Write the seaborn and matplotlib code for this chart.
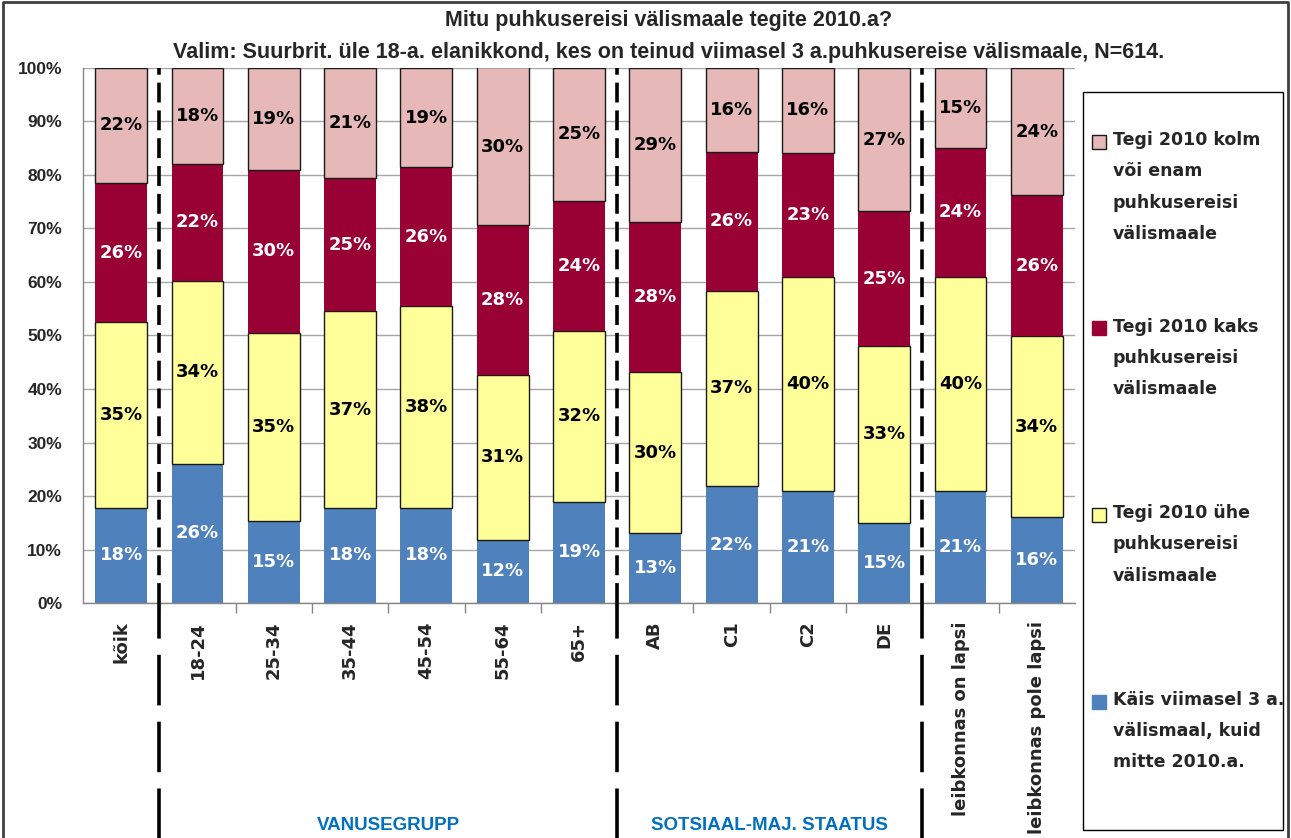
import matplotlib
matplotlib.use("Agg")
import matplotlib.pyplot as plt
import numpy as np
import pandas as pd
import seaborn as sns
from matplotlib.lines import Line2D
from matplotlib.patches import Rectangle
from matplotlib.ticker import FixedLocator, PercentFormatter

CATEGORIES = ["kõik", "18-24", "25-34", "35-44", "45-54", "55-64", "65+",
              "AB", "C1", "C2", "DE", "leibkonnas on lapsi", "leibkonnas pole lapsi"]

# protsendid, alt üles
NOT_2010 = [17.8, 26.0, 15.3, 17.8, 17.8, 11.8, 18.9, 13.0, 21.8, 20.9, 15.0, 20.9, 16.0]
ONE_TRIP = [34.7, 34.2, 35.2, 36.7, 37.7, 30.8, 32.0, 30.1, 36.6, 40.0, 33.0, 40.0, 33.9]
TWO_TRIPS = [26.0, 21.9, 30.4, 24.9, 25.9, 28.0, 24.3, 28.2, 25.9, 23.2, 25.2, 24.2, 26.3]
THREE_PLUS = [21.5, 17.9, 19.1, 20.6, 18.6, 29.6, 24.8, 28.7, 15.7, 15.9, 26.8, 14.9, 23.8]

SERIES_NAMES = [
    "Käis viimasel 3 a.\nvälismaal, kuid\nmitte 2010.a.",
    "Tegi 2010 ühe\npuhkusereisi\nvälismaale",
    "Tegi 2010 kaks\npuhkusereisi\nvälismaale",
    "Tegi 2010 kolm\nvõi enam\npuhkusereisi\nvälismaale",
]

GROUPS = ["VANUSEGRUPP", "SOTSIAAL-MAJ. STAATUS"]
GROUP_CENTERS = [3.5, 8.5]
SEPARATORS = [0.5, 6.5, 10.5]

TITLE = ("Mitu puhkusereisi välismaale tegite 2010.a?\n"
         "Valim: Suurbrit. üle 18-a. elanikkond, kes on teinud viimasel 3 a.puhkusereise välismaale, N=614.")

COLORS = ["#4F81BD", "#FFFF99", "#990033", "#E6B9B8"]
EDGES = [None, "#1a1a1a", None, "#1a1a1a"]
TEXT_COLORS = ["white", "black", "white", "black"]

NARROW = ["Liberation Sans Narrow", "Liberation Sans", "DejaVu Sans"]

sns.set_theme(style="white")
plt.rcParams["font.family"] = ["DejaVu Sans"]

df = pd.DataFrame({
    "kategooria": CATEGORIES,
    "s0": NOT_2010,
    "s1": ONE_TRIP,
    "s2": TWO_TRIPS,
    "s3": THREE_PLUS,
})

fig = plt.figure(figsize=(12.91, 8.38), dpi=100)
ax = fig.add_axes([0.0643, 0.2804, 0.7684, 0.6385])

bottom = np.zeros(len(CATEGORIES))
for i, col in enumerate(["s0", "s1", "s2", "s3"]):
    edge = EDGES[i]
    sns.barplot(data=df, x="kategooria", y=col, order=CATEGORIES, color=COLORS[i],
                saturation=1, width=0.68, errorbar=None, bottom=bottom,
                edgecolor=edge if edge else COLORS[i], linewidth=1.0 if edge else 0,
                ax=ax, zorder=2)
    ax.bar_label(ax.containers[-1], labels=[f"{v:.0f}%" for v in df[col]],
                 label_type="center", color=TEXT_COLORS[i], fontsize=13,
                 fontweight="bold")
    bottom = bottom + df[col].to_numpy()

ax.set_ylim(0, 100)
ax.set_xlim(-0.5, len(CATEGORIES) - 0.5)
ax.yaxis.set_major_locator(FixedLocator(np.arange(0, 101, 10)))
ax.yaxis.set_major_formatter(PercentFormatter(decimals=0))
ax.yaxis.grid(True, color="#a6a6a6", linewidth=1)
ax.set_axisbelow(True)
ax.set_xlabel("")
ax.set_ylabel("")

for side in ["top", "right"]:
    ax.spines[side].set_visible(False)
for side in ["left", "bottom"]:
    ax.spines[side].set_color("#868686")
    ax.spines[side].set_linewidth(1)

ax.tick_params(axis="y", length=5, color="#868686", pad=10)
for lab in ax.get_yticklabels():
    lab.set_family(NARROW)
    lab.set_fontweight("bold")
    lab.set_fontsize(12.5)

ax.set_xticks(range(len(CATEGORIES)))
ax.set_xticklabels(CATEGORIES, rotation=90, fontsize=13, fontweight="bold")
ax.tick_params(axis="x", which="major", length=0, pad=13)
ax.xaxis.set_minor_locator(FixedLocator(np.arange(0.5, len(CATEGORIES) - 1, 1)))
ax.tick_params(axis="x", which="minor", length=7, color="#868686", width=1, bottom=True)

# eraldusjooned gruppide vahel
for xs in SEPARATORS:
    ax.axvline(xs, ymin=0, ymax=1, color="black", lw=2.6, dashes=(5.5, 2.2), zorder=3)
    ax.axvline(xs, ymin=-0.45, ymax=0, color="black", lw=2.6, dashes=(14, 4.5),
               clip_on=False, zorder=3)

for name, xc in zip(GROUPS, GROUP_CENTERS):
    ax.text(xc, -0.415, name, transform=ax.get_xaxis_transform(), ha="center",
            va="center", color="#0070C0", fontsize=13.5, fontweight="bold",
            family=NARROW)

title_lines = TITLE.split("\n")
fig.text(0.518, 0.975, title_lines[0], ha="center", va="center", fontsize=15.5,
         fontweight="bold", family=NARROW)
fig.text(0.518, 0.937, title_lines[1], ha="center", va="center", fontsize=15.5,
         fontweight="bold", family=NARROW)

# legend box
fig.add_artist(Rectangle((1083 / 1291, 1 - 830 / 838), 200 / 1291, 738 / 838,
                         transform=fig.transFigure, fill=False, edgecolor="black",
                         linewidth=1))
first_y = 142
pitch = 186.5
for k, i in enumerate([3, 2, 1, 0]):
    yc = first_y + k * pitch
    fig.add_artist(Rectangle((1092 / 1291, 1 - (yc + 7) / 838), 14 / 1291, 14 / 838,
                             transform=fig.transFigure, facecolor=COLORS[i],
                             edgecolor="#1a1a1a" if EDGES[i] else COLORS[i],
                             linewidth=1))
    fig.text(1113 / 1291, 1 - (yc - 11) / 838, SERIES_NAMES[i], ha="left", va="top",
             fontsize=12.5, fontweight="bold", linespacing=1.95)

# ülemine raam
fig.add_artist(Line2D([0.002, 0.002, 0.998, 0.998], [0.0, 0.998, 0.998, 0.0],
                      transform=fig.transFigure, color="#404040", linewidth=2))

fig.savefig("out.png", dpi=100)
